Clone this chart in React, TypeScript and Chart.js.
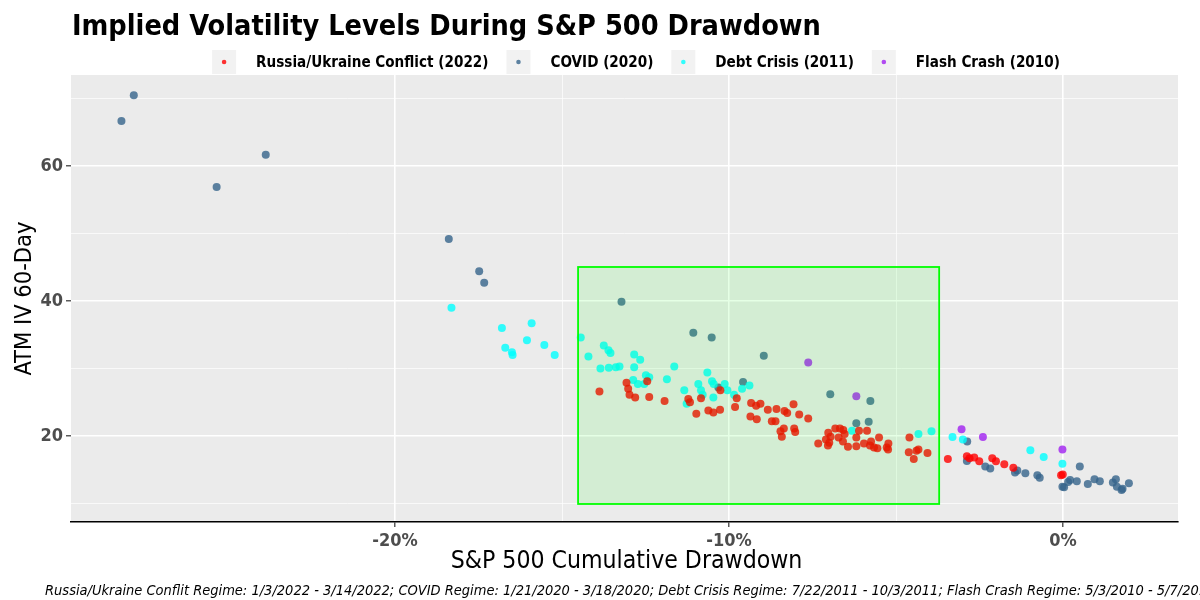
import React, { useEffect, useRef } from "react";
import { Chart, registerables } from "chart.js";

Chart.register(...registerables);

// ---------- data ----------
const seriesNames = [
  "Russia/Ukraine Conflict (2022)",
  "COVID (2020)",
  "Debt Crisis (2011)",
  "Flash Crash (2010)",
];

const russiaDrawdown = [
  -13.88, -13.07, -13.02, -12.98, -12.81, -12.45, -12.39, -11.93, -11.22, -11.17,
  -10.98, -10.84, -10.62, -10.47, -10.27, -10.26, -9.77, -9.82, -9.34, -9.19,
  -9.06, -9.36, -9.17, -8.84, -8.58, -8.72, -8.61, -8.34, -8.26, -8.07,
  -7.9, -7.63, -8.46, -8.42, -8.36, -8.05, -8.02, -7.33, -7.1, -7.04,
  -7.0, -7.03, -6.96, -6.82, -6.68, -6.58, -6.54, -6.72, -6.59, -6.44,
  -6.19, -6.11, -6.19, -5.87, -5.96, -5.75, -5.78, -5.66, -5.56, -5.51,
  -5.28, -5.24, -5.23, -4.6, -4.62, -4.47, -4.39, -4.33, -4.06, -3.45,
  -2.88, -2.8, -2.66, -2.51, -2.12, -2.01, -1.76, -1.49, -0.06, -0.01,
];
const russiaIV = [
  26.6, 27.9, 27.0, 26.1, 25.7, 28.1, 25.8, 25.2, 25.5, 25.0,
  23.3, 25.6, 23.8, 23.5, 23.9, 26.8, 25.6, 24.3, 24.9, 24.5,
  24.8, 22.9, 22.5, 23.9, 24.0, 22.2, 22.2, 23.7, 23.4, 24.7,
  23.2, 22.6, 20.7, 19.9, 21.1, 21.1, 20.6, 18.9, 19.5, 18.6,
  19.0, 20.5, 19.9, 21.1, 21.1, 20.9, 20.3, 19.8, 19.2, 18.4,
  19.8, 20.8, 18.5, 20.8, 18.9, 19.2, 18.6, 18.3, 18.2, 19.8,
  18.3, 18.0, 18.9, 19.8, 17.6, 16.6, 17.8, 18.0, 17.5, 16.6,
  17.0, 16.7, 16.8, 16.25, 16.7, 16.25, 15.8, 15.3, 14.2, 14.3,
];

const covidDrawdown = [
  -28.19, -27.82, -25.34, -23.87, -18.39, -17.48, -17.33, -13.22, -11.07, -10.52,
  -8.96, -9.58, -10.32, -6.97, -5.77, -6.19, -5.82, -2.87, -2.88, -2.33,
  -2.18, -1.44, -1.37, -1.13, -0.77, -0.7, -0.02, 0.03, 0.15, 0.21,
  0.41, 0.5, 0.74, 0.94, 1.1, 1.49, 1.58, 1.61, 1.75, 1.78, 1.97,
];
const covidIV = [
  66.7, 70.5, 56.9, 61.7, 49.2, 44.4, 42.7, 39.9, 35.3, 34.6,
  31.9, 28.0, 27.2, 26.2, 25.2, 21.9, 22.1, 19.2, 16.3, 15.5,
  15.2, 14.6, 14.9, 14.5, 14.2, 13.8, 12.5, 12.4, 13.2, 13.5,
  13.3, 15.5, 12.9, 13.6, 13.3, 13.1, 13.6, 12.5, 12.0, 12.2, 13.0,
];

const debtDrawdown = [
  -18.31, -16.8, -15.91, -16.05, -16.7, -16.5, -16.48, -15.53, -15.22, -14.44,
  -14.21, -13.75, -13.61, -13.55, -13.85, -13.6, -13.39, -13.28, -12.84, -12.66,
  -12.84, -12.87, -12.73, -12.54, -12.49, -12.39, -11.86, -11.64, -11.34, -11.27,
  -10.92, -10.84, -10.79, -10.65, -10.51, -10.46, -10.47, -10.13, -10.05, -9.85,
  -9.61, -9.39, -6.32, -4.33, -3.94, -3.31, -3.0, -0.98, -0.58, -0.02,
];
const debtIV = [
  39.0, 36.0, 36.7, 34.2, 33.1, 32.4, 32.0, 33.5, 32.0, 34.6,
  31.8, 33.4, 32.7, 32.3, 30.0, 30.1, 30.2, 30.3, 32.1, 31.3,
  30.2, 28.3, 27.7, 27.7, 29.0, 28.7, 28.4, 30.3, 26.8, 24.8,
  27.7, 26.8, 26.1, 29.4, 28.1, 27.7, 25.7, 27.7, 26.8, 26.1,
  27.0, 27.5, 20.8, 20.3, 20.7, 19.85, 19.5, 17.9, 16.9, 15.9,
];

const flashDrawdown = [-7.63, -6.19, -3.04, -2.4, -0.02];
const flashIV = [30.9, 25.9, 21.0, 19.85, 18.0];

// highlighted box (drawdown %, IV)
const boxDrawdown = [-14.52, -3.71];
const boxIV = [9.93, 45.05];

const xTicks = [-20, -15, -10, -5, 0];
const xMajorTicks = [-20, -10, 0];
const yTicks = [10, 20, 30, 40, 50, 60, 70];
const yMajorTicks = [20, 40, 60];
const xRange = [-29.7, 3.44];
const yRange = [7.26, 73.5];

const titleText = "Implied Volatility Levels During S&P 500 Drawdown";
const xTitleText = "S&P 500 Cumulative Drawdown";
const yTitleText = "ATM IV 60-Day";
const captionText =
  "Russia/Ukraine Conflit Regime: 1/3/2022 - 3/14/2022; COVID Regime: 1/21/2020 - 3/18/2020; Debt Crisis Regime: 7/22/2011 - 10/3/2011; Flash Crash Regime: 5/3/2010 - 5/7/2010.";

// ---------- styles ----------
const FONT = '"Liberation Sans Narrow", "DejaVu Sans Condensed", "Roboto Condensed", Roboto, "Noto Sans", sans-serif';
const seriesColors = [
  "rgba(255,0,0,0.8)",
  "rgba(54,100,139,0.8)",
  "rgba(0,255,255,0.8)",
  "rgba(160,32,240,0.8)",
];

function zip(xs: number[], ys: number[]) {
  return xs.map((x, i) => ({ x, y: ys[i] }));
}

const panelPlugin = {
  id: "panelBg",
  beforeDraw(chart: any) {
    const { ctx, chartArea: a } = chart;
    ctx.save();
    ctx.fillStyle = "#EBEBEB";
    ctx.fillRect(a.left, a.top, a.right - a.left, a.bottom - a.top);
    ctx.restore();
  },
};

const boxPlugin = {
  id: "regimeBox",
  afterDatasetsDraw(chart: any) {
    const { ctx, scales } = chart;
    const x0 = scales.x.getPixelForValue(boxDrawdown[0]);
    const x1 = scales.x.getPixelForValue(boxDrawdown[1]);
    const y0 = scales.y.getPixelForValue(boxIV[1]);
    const y1 = scales.y.getPixelForValue(boxIV[0]);
    ctx.save();
    ctx.fillStyle = "rgba(0,255,0,0.1)";
    ctx.fillRect(x0, y0, x1 - x0, y1 - y0);
    ctx.strokeStyle = "#00FF00";
    ctx.lineWidth = 1.8;
    ctx.strokeRect(x0, y0, x1 - x0, y1 - y0);
    ctx.restore();
  },
};

const textPlugin = {
  id: "texts",
  afterDraw(chart: any) {
    const { ctx, chartArea: a } = chart;
    ctx.save();
    // title
    ctx.fillStyle = "#000";
    ctx.font = `bold 28.6px ${FONT}`;
    ctx.textAlign = "left";
    ctx.textBaseline = "alphabetic";
    ctx.fillText(titleText, 72, 35);

    // legend
    ctx.font = `bold 15.1px ${FONT}`;
    const keySize = 24;
    const gapKeyText = 20;
    const gapItems = 18;
    const widths = seriesNames.map((n) => ctx.measureText(n).width);
    let total = 0;
    widths.forEach((w, i) => {
      total += keySize + gapKeyText + w + (i < widths.length - 1 ? gapItems : 0);
    });
    let x = 636 - total / 2;
    const cy = 62;
    seriesNames.forEach((n, i) => {
      ctx.fillStyle = "#F2F2F2";
      ctx.fillRect(x, cy - keySize / 2, keySize, keySize);
      ctx.fillStyle = seriesColors[i];
      ctx.beginPath();
      ctx.arc(x + keySize / 2, cy, 2.3, 0, Math.PI * 2);
      ctx.fill();
      ctx.fillStyle = "#000";
      ctx.textBaseline = "middle";
      ctx.fillText(n, x + keySize + gapKeyText, cy + 1);
      x += keySize + gapKeyText + widths[i] + gapItems;
    });

    // axis titles
    ctx.font = `24.6px ${FONT}`;
    ctx.textAlign = "center";
    ctx.textBaseline = "middle";
    ctx.fillText(xTitleText, (a.left + a.right) / 2 + 2, 562);
    ctx.save();
    ctx.translate(25, (a.top + a.bottom) / 2);
    ctx.rotate(-Math.PI / 2);
    ctx.font = `23.5px ${FONT}`;
    ctx.fillText(yTitleText, 0, 0);
    ctx.restore();

    // caption
    ctx.font = `italic 14.5px ${FONT}`;
    ctx.textAlign = "left";
    ctx.fillText(captionText, 45, 591);
    ctx.restore();
  },
};

export default function App() {
  const canvasRef = useRef<HTMLCanvasElement | null>(null);

  useEffect(() => {
    document.body.style.margin = "0";
    const canvas = canvasRef.current;
    if (!canvas) return;
    const chart = new Chart(canvas, {
      type: "scatter",
      data: {
        datasets: [
          { label: seriesNames[0], data: zip(russiaDrawdown, russiaIV) },
          { label: seriesNames[2], data: zip(debtDrawdown, debtIV) },
          { label: seriesNames[3], data: zip(flashDrawdown, flashIV) },
          { label: seriesNames[1], data: zip(covidDrawdown, covidIV) },
        ].map((d) => {
          const idx = seriesNames.indexOf(d.label);
          return {
            ...d,
            backgroundColor: seriesColors[idx],
            borderWidth: 0,
            pointRadius: 4,
            pointHoverRadius: 4,
          };
        }),
      },
      options: {
        animation: false,
        responsive: false,
        events: [],
        layout: { padding: { left: 0, top: 75, right: 22, bottom: 0 } },
        plugins: {
          legend: { display: false },
          tooltip: { enabled: false },
          title: { display: false },
        },
        scales: {
          x: {
            type: "linear",
            min: xRange[0],
            max: xRange[1],
            afterBuildTicks: (scale: any) => {
              scale.ticks = xTicks.map((v) => ({ value: v }));
            },
            afterFit: (scale: any) => {
              scale.height = 78;
            },
            ticks: {
              autoSkip: false,
              maxRotation: 0,
              padding: 4,
              color: "#4D4D4D",
              font: { family: FONT, size: 18, weight: "bold" },
              callback: (v: any) => (xMajorTicks.includes(Number(v)) ? `${v}%` : ""),
            },
            grid: {
              color: "#FFFFFF",
              lineWidth: (c: any) => (xMajorTicks.includes(c.tick?.value) ? 1.6 : 0.7),
              tickColor: (c: any) => (xMajorTicks.includes(c.tick?.value) ? "#333333" : "rgba(0,0,0,0)"),
              tickLength: 5,
              tickWidth: 1.2,
            },
            border: { display: true, color: "#000000", width: 1.5 },
          },
          y: {
            type: "linear",
            min: yRange[0],
            max: yRange[1],
            afterBuildTicks: (scale: any) => {
              scale.ticks = yTicks.map((v) => ({ value: v }));
            },
            afterFit: (scale: any) => {
              scale.width = 71;
            },
            ticks: {
              autoSkip: false,
              padding: 3,
              color: "#4D4D4D",
              font: { family: FONT, size: 18, weight: "bold" },
              callback: (v: any) => (yMajorTicks.includes(Number(v)) ? `${v}` : ""),
            },
            grid: {
              color: "#FFFFFF",
              lineWidth: (c: any) => (yMajorTicks.includes(c.tick?.value) ? 1.6 : 0.7),
              tickColor: (c: any) => (yMajorTicks.includes(c.tick?.value) ? "#333333" : "rgba(0,0,0,0)"),
              tickLength: 5,
              tickWidth: 1.2,
            },
            border: { display: false },
          },
        },
      },
      plugins: [panelPlugin, boxPlugin, textPlugin],
    } as any);
    return () => chart.destroy();
  }, []);

  return (
    <div style={{ position: "fixed", left: 0, top: 0, width: 1200, height: 600, background: "#fff" }}>
      <canvas ref={canvasRef} width={1200} height={600} style={{ width: 1200, height: 600 }} />
    </div>
  );
}
